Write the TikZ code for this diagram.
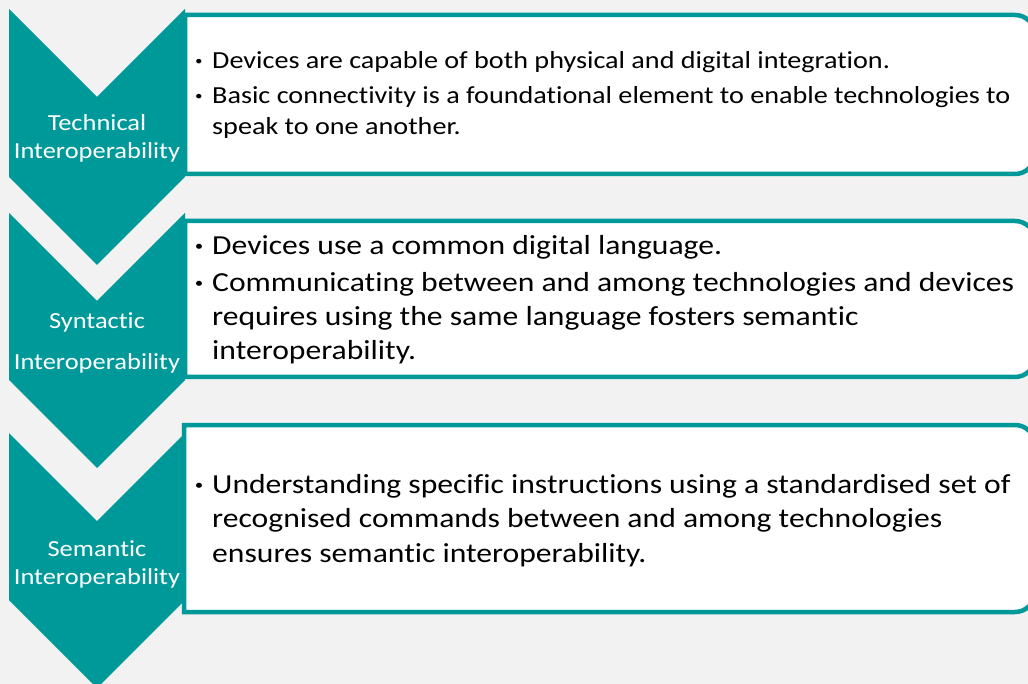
\documentclass[tikz,border=0pt]{standalone}
\usepackage{fontspec}
\setmainfont{Carlito}[FakeStretch=1.15,Ligatures={NoCommon,NoContextual}]
\definecolor{tealc}{HTML}{009999}
\definecolor{bgc}{HTML}{F2F2F2}
\begin{document}
\begin{tikzpicture}[x=1pt,y=-1pt,
  chev/.style={fill=tealc,draw=none},
  infobox/.style={draw=tealc,line width=4.5pt,fill=white},
  lab/.style={text=white,inner sep=0pt,anchor=base,font=\fontsize{23}{28}\selectfont},
  sline/.style={inner sep=0pt,anchor=base west,font=\fontsize{24.5}{30}\selectfont},
  bline/.style={inner sep=0pt,anchor=base west,font=\fontsize{27.5}{34}\selectfont},
  sdot/.style={inner sep=0pt,anchor=base,font=\bfseries\fontsize{24.5}{30}\selectfont},
  bdot/.style={inner sep=0pt,anchor=base,font=\bfseries\fontsize{27.5}{34}\selectfont}]
\useasboundingbox (0,0) rectangle (1028,684);
\clip (0,0) rectangle (1028,684);
\fill[bgc] (0,0) rectangle (1028,684);
% boxes
\draw[infobox] (185,15) -- (1015,15) arc[start angle=-90,end angle=0,radius=20] -- (1035,154) arc[start angle=0,end angle=90,radius=20] -- (185,174) -- cycle;
\draw[infobox] (185,221) -- (1015,221) arc[start angle=-90,end angle=0,radius=20] -- (1035,357) arc[start angle=0,end angle=90,radius=20] -- (185,377) -- cycle;
\draw[infobox] (184,425) -- (1015,425) arc[start angle=-90,end angle=0,radius=20] -- (1035,592) arc[start angle=0,end angle=90,radius=20] -- (184,612) -- cycle;
% chevrons
\fill[chev] (9,9) -- (97,97) -- (185,9) -- (185,177) -- (97,265) -- (9,177) -- cycle;
\fill[chev] (9,213) -- (97,301) -- (185,213) -- (185,380) -- (97,468) -- (9,380) -- cycle;
\fill[chev] (9,433) -- (97,521) -- (185,433) -- (185,600) -- (97,688) -- (9,600) -- cycle;
% chevron labels
\node[lab] (t1a) at (97,131) {Technical};
\node[lab] (t1b) at (97,159) {Interoperability};
\node[lab] (t2a) at (97,329) {Syntactic};
\node[lab] (t2b) at (97,370) {Interoperability};
\node[lab] (t3a) at (97,556) {Semantic};
\node[lab] (t3b) at (97,584) {Interoperability};
% box 1
\node[sdot] (d1a) at (199,69) {·};
\node[sline] (l1a) at (212,69) {Devices are capable of both physical and digital integration.};
\node[sdot] (d1b) at (199,104) {·};
\node[sline] (l1b) at (212,104) {Basic connectivity is a foundational element to enable technologies to};
\node[sline] (l1c) at (212,135) {speak to one another.};
% box 2
\node[bdot] (d2a) at (199,255) {·};
\node[bline] (l2a) at (212,255) {Devices use a common digital language.};
\node[bdot] (d2b) at (199,292) {·};
\node[bline] (l2b) at (212,292) {Communicating between and among technologies and devices};
\node[bline] (l2c) at (212,326) {requires using the same language fosters semantic};
\node[bline] (l2d) at (212,360) {interoperability.};
% box 3
\node[bdot] (d3a) at (199,493) {·};
\node[bline] (l3a) at (212,493) {Understanding specific instructions using a standardised set of};
\node[bline] (l3b) at (212,527.5) {recognised commands between and among technologies};
\node[bline] (l3c) at (212,562) {ensures semantic interoperability.};
\end{tikzpicture}
\end{document}
